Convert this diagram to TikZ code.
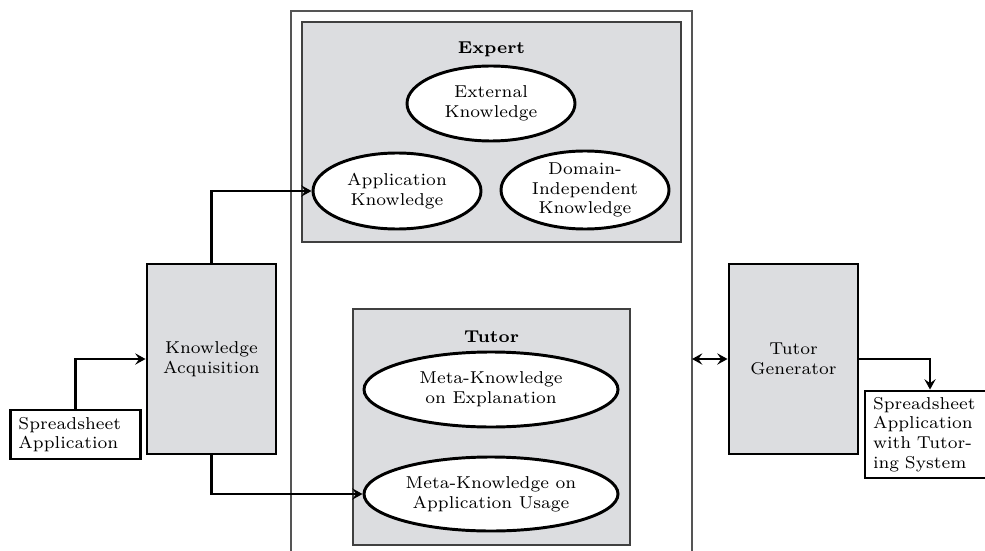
\documentclass[tikz,border=0pt]{standalone}
\usetikzlibrary{shapes.geometric,arrows.meta}
\definecolor{panelgray}{RGB}{220,221,224}
\definecolor{framegray}{RGB}{85,85,85}
% one drawing unit is one pixel of the layout grid
\newcommand\pu{0.407}
\begin{document}
\begin{tikzpicture}[x=0.407pt,y=-0.407pt,
  font=\fontsize{7}{8}\selectfont,
  panel/.style={draw=black!75, line width=0.6pt, fill=panelgray, inner sep=0pt},
  procbox/.style={draw, line width=1.2pt, fill=panelgray, align=center,
    inner sep=0pt, minimum width={129*\pu*1pt}, minimum height={190*\pu*1pt}},
  iobox/.style={draw, line width=1.2pt, fill=white, align=left,
    inner xsep={8*\pu*1pt}, inner ysep=0pt, text width={114*\pu*1pt}},
  know/.style={ellipse, draw, line width=1.2pt, fill=white, align=center, inner sep=0pt},
  tip/.tip={Stealth[length=4.2pt,width=4.6pt,inset=1.6pt]},
  flow/.style={line width=1pt, -tip},
  flowboth/.style={line width=0.9pt, tip-tip},
  title/.style={font=\fontsize{7}{8}\selectfont\bfseries, anchor=base}
]
\useasboundingbox (0,0) rectangle (985,550);

% system frame, open at the bottom
\draw[framegray, line width=0.6pt] (291,570) -- (291,11) -- (692,11) -- (692,570);
\coordinate (frameport) at (692,359);

% expert panel
\node[panel, minimum width={379*\pu*1pt}, minimum height={220*\pu*1pt}] (expert) at (491.5,132) {};
\node[title] (expertlbl) at (491.5,54) {Expert};
\node[know, minimum width={168*\pu*1pt}, minimum height={75*\pu*1pt}] (ext) at (491,103.5) {External\\Knowledge};
\node[know, minimum width={168*\pu*1pt}, minimum height={76*\pu*1pt}] (app) at (397,191) {Application\\Knowledge};
\node[know, minimum width={168*\pu*1pt}, minimum height={78*\pu*1pt}] (dom) at (585,190) {Domain-\\Independent\\Knowledge};

% tutor panel
\node[panel, minimum width={277*\pu*1pt}, minimum height={236*\pu*1pt}] (tutor) at (491.5,427) {};
\node[title] (tutorlbl) at (491.5,342) {Tutor};
\node[know, minimum width={254*\pu*1pt}, minimum height={75*\pu*1pt}] (mexp) at (491,389.5) {Meta-Knowledge\\on Explanation};
\node[know, minimum width={254*\pu*1pt}, minimum height={74*\pu*1pt}] (musage) at (491,494) {Meta-Knowledge on\\Application Usage};

% processing blocks
\node[procbox] (ka) at (211.5,359) {Knowledge\\Acquisition};
\node[procbox] (tg) at (793.5,359) {Tutor\\Generator};

% input and output artefacts
\node[iobox, minimum height={49*\pu*1pt}] (sa) at (75.5,434.5) {Spreadsheet\\Application};
\node[iobox, minimum height={87*\pu*1pt}] (sat) at (930,434.5) {Spreadsheet\\Application\\with Tutor-\\ing System};

% connectors
\draw[flow] (sa.north) |- (ka.west);
\draw[flow] (ka.north) |- (app.west);
\draw[flow] (ka.south) |- (musage.west);
\draw[flowboth] (frameport) -- (tg.west);
\draw[flow] (tg.east) -| (sat.north);
\end{tikzpicture}
\end{document}
